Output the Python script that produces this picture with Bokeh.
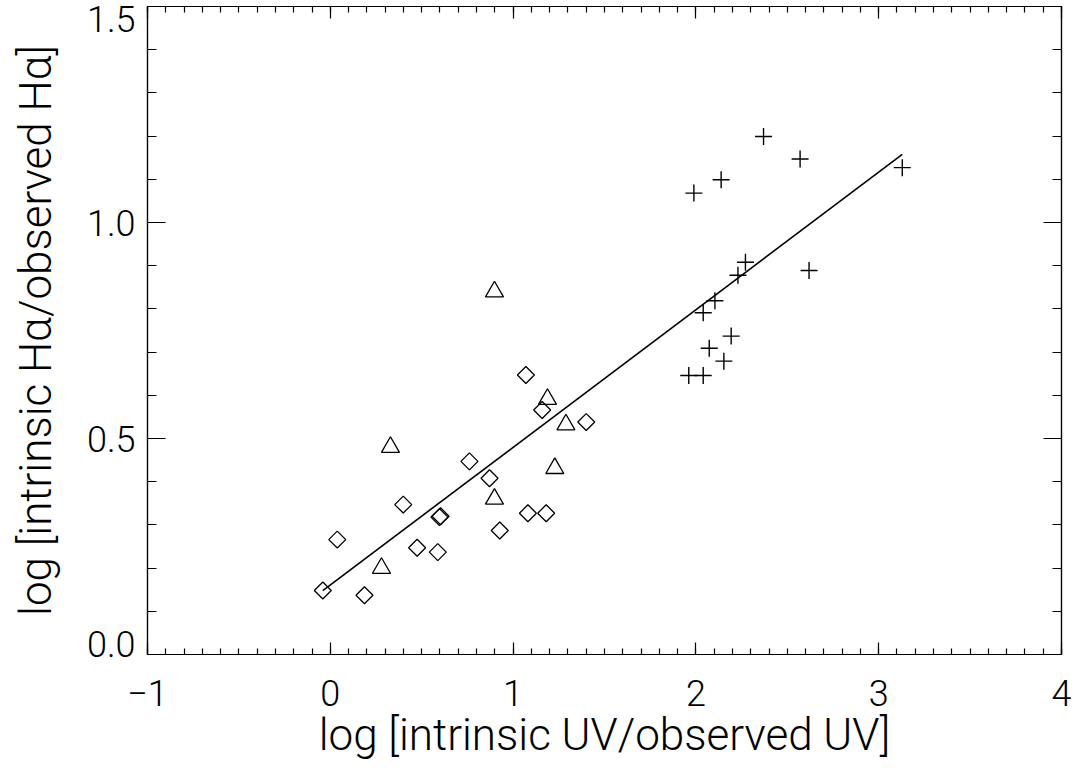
import numpy as np
from bokeh.plotting import figure
from bokeh.models import Range1d, LinearAxis, FixedTicker, CustomJSTickFormatter
from bokeh.embed import file_html
from bokeh.resources import INLINE

# log [intrinsic UV / observed UV] vs log [intrinsic Halpha / observed Halpha]
diamond_x = [-0.041, 0.187, 0.038, 0.399, 0.475, 0.588, 0.597, 0.603, 0.761, 0.871,
             0.927, 1.070, 1.081, 1.181, 1.159, 1.400]
diamond_y = [0.148, 0.137, 0.266, 0.347, 0.247, 0.237, 0.318, 0.320, 0.447, 0.408,
             0.287, 0.647, 0.327, 0.327, 0.566, 0.538]

triangle_x = [0.280, 0.329, 0.898, 1.188, 1.289, 1.228, 0.898]
triangle_y = [0.200, 0.480, 0.360, 0.591, 0.532, 0.431, 0.840]

plus_x = [2.370, 2.570, 2.138, 1.989, 3.129, 2.271, 2.230, 2.619, 2.104, 2.040,
          2.193, 2.073, 2.153, 1.961, 2.040]
plus_y = [1.199, 1.147, 1.099, 1.068, 1.127, 0.908, 0.878, 0.889, 0.819, 0.791,
          0.737, 0.709, 0.679, 0.646, 0.646]

# linear fit y = fit_a + fit_b * x, drawn over the range of the data
fit_a = 0.161
fit_b = 0.3186

x_ticks = [-1, 0, 1, 2, 3, 4]
x_labels = ["\u22121", "0", "1", "2", "3", "4"]
y_ticks = [0.0, 0.5, 1.0, 1.5]
y_labels = ["0.0", "0.5", "1.0", "1.5"]
x_minor = [round(-1 + 0.1 * i, 1) for i in range(51)]
y_minor = [round(0.1 * i, 1) for i in range(16)]

FONT = "Roboto Light"
TICK_SIZE = "36px"
LABEL_SIZE = "44px"

p = figure(width=1076, height=770, output_backend="svg", toolbar_location=None,
           x_range=Range1d(-1, 4), y_range=Range1d(0, 1.5),
           min_border_left=147, min_border_right=15, min_border_top=6,
           min_border_bottom=116)
p.background_fill_color = "white"
p.border_fill_color = "white"
p.grid.visible = False
p.outline_line_color = "black"
p.outline_line_width = 1.2

all_x = diamond_x + triangle_x + plus_x
lx = np.array([min(all_x), max(all_x)])
p.line(lx, fit_a + fit_b * lx, line_color="black", line_width=1.6)

p.scatter(diamond_x, diamond_y, marker="square", size=12, angle=np.pi / 4,
          fill_color=None, line_color="black", line_width=1.3)
p.scatter(triangle_x, triangle_y, marker="triangle", size=18,
          fill_color=None, line_color="black", line_width=1.3)
p.scatter(plus_x, plus_y, marker="cross", size=17,
          line_color="black", line_width=1.4)


def style_axis(ax, ticks, minor, tick_len, minor_len):
    ax.ticker = FixedTicker(ticks=ticks, minor_ticks=minor)
    ax.major_tick_in = tick_len
    ax.major_tick_out = 0
    ax.minor_tick_in = minor_len
    ax.minor_tick_out = 0
    ax.axis_line_color = "black"
    ax.axis_line_width = 1.2
    ax.major_tick_line_color = "black"
    ax.minor_tick_line_color = "black"
    ax.major_tick_line_width = 1.2
    ax.minor_tick_line_width = 1.2
    ax.major_label_text_font = FONT
    ax.major_label_text_font_size = TICK_SIZE
    ax.major_label_text_color = "black"
    ax.axis_label_text_font = FONT
    ax.axis_label_text_font_size = LABEL_SIZE
    ax.axis_label_text_font_style = "normal"
    ax.axis_label_text_color = "black"


xa = p.xaxis[0]
style_axis(xa, x_ticks, x_minor, 12, 6)
xa.major_label_overrides = dict(zip(x_ticks, x_labels))
xa.major_label_standoff = 25
xa.axis_label = "log [intrinsic UV/observed UV]"
xa.axis_label_standoff = 0

# the end labels of the y axis are drawn separately, nudged inside the frame
ya = p.yaxis[0]
style_axis(ya, y_ticks, y_minor, 18, 9)
overrides = dict(zip(y_ticks, y_labels))
overrides[y_ticks[0]] = ""
overrides[y_ticks[-1]] = ""
ya.major_label_overrides = overrides
ya.major_label_standoff = 12
ya.axis_label = "log [intrinsic H\u03b1/observed H\u03b1]"
ya.axis_label_standoff = 22

end_y = [y_ticks[0], y_ticks[-1]]
end_text = [y_labels[0], y_labels[-1]]
p.text(x=[p.x_range.start] * 2, y=end_y, text=end_text,
       x_offset=-12, y_offset=[-11, 12], text_align="right", text_baseline="middle",
       text_font={"value": FONT}, text_font_size={"value": TICK_SIZE},
       text_color="black", level="overlay")

blank = CustomJSTickFormatter(code="return ''")
top = LinearAxis(formatter=blank)
style_axis(top, x_ticks, x_minor, 12, 6)
top.major_label_standoff = 0
p.add_layout(top, "above")

right = LinearAxis(formatter=blank)
style_axis(right, y_ticks, y_minor, 18, 9)
right.major_label_standoff = 0
p.add_layout(right, "right")

open("out.html", "w").write(file_html(p, INLINE))
